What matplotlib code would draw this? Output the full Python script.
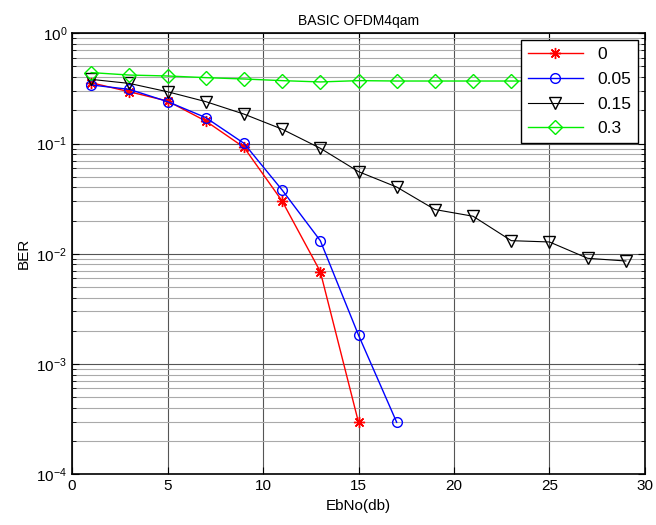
import matplotlib
matplotlib.use("Agg")
import matplotlib.pyplot as plt
from matplotlib.ticker import LogLocator, NullFormatter

plt.rcParams['font.family'] = ['Liberation Sans', 'DejaVu Sans']

### --- data
ebno = [1, 3, 5, 7, 9, 11, 13, 15, 17, 19, 21, 23, 25, 27, 29]

ber_0 = [0.356, 0.295, 0.243, 0.160, 0.0925, 0.0301, 0.00689, 0.000296]
ber_005 = [0.34, 0.31, 0.24, 0.172, 0.1005, 0.0379, 0.01315, 0.00183, 0.000296]
ber_015 = [0.382, 0.351, 0.295, 0.24, 0.185, 0.135, 0.0906, 0.0556,
           0.0403, 0.0252, 0.0219, 0.01315, 0.0128, 0.0091, 0.0086]
ber_03 = [0.44, 0.418, 0.41, 0.396, 0.385, 0.372, 0.362, 0.372,
          0.369, 0.369, 0.369, 0.369, 0.369, 0.369, 0.369]

labels = ["0", "0.05", "0.15", "0.3"]
#

fig = plt.figure(figsize=(6.56, 5.25), dpi=100)
ax = fig.add_axes([0.1098, 0.0966, 0.8734, 0.84])

# matlab style '*' marker (8 spokes)
ax.semilogy(ebno[:len(ber_0)], ber_0, color="red", marker=(8, 2, 0), ms=8, mew=1, lw=1, label=labels[0])
ax.semilogy(ebno[:len(ber_005)], ber_005, color="blue", marker="o", ms=7, mfc="none", lw=1, label=labels[1])
ax.semilogy(ebno, ber_015, color="black", marker="v", ms=9, mfc="none", lw=0.8, label=labels[2])
ax.semilogy(ebno, ber_03, color="#00ee00", marker="D", ms=7, mfc="none", lw=1, label=labels[3])

ax.set_xlim(0, 30)
ax.set_ylim(1e-4, 1)
ax.set_xticks([0, 5, 10, 15, 20, 25, 30])
ax.yaxis.set_major_locator(LogLocator(base=10, numticks=10))
ax.yaxis.set_minor_locator(LogLocator(base=10, subs=range(2, 10), numticks=20))
ax.yaxis.set_minor_formatter(NullFormatter())

ax.grid(True, which="major", axis="both", color="#555555", lw=0.8)
ax.grid(True, which="minor", axis="y", color="#aaaaaa", lw=0.8)
ax.tick_params(which="both", direction="in", top=True, right=True, labelsize=11)
ax.tick_params(which="major", length=5)
ax.tick_params(which="minor", length=3)
for s in ax.spines.values():
    s.set_linewidth(1.2)

ax.set_title("BASIC OFDM4qam", fontsize=10)
ax.set_xlabel("EbNo(db)", fontsize=11)
ax.set_ylabel("BER", fontsize=11)

leg = ax.legend(loc="upper right", fontsize=12.5, fancybox=False, framealpha=1,
                edgecolor="black", borderaxespad=0.4, handlelength=3.2,
                labelspacing=0.55)
leg.get_frame().set_linewidth(1)

plt.savefig("out.png", dpi=100)
plt.close("all")
